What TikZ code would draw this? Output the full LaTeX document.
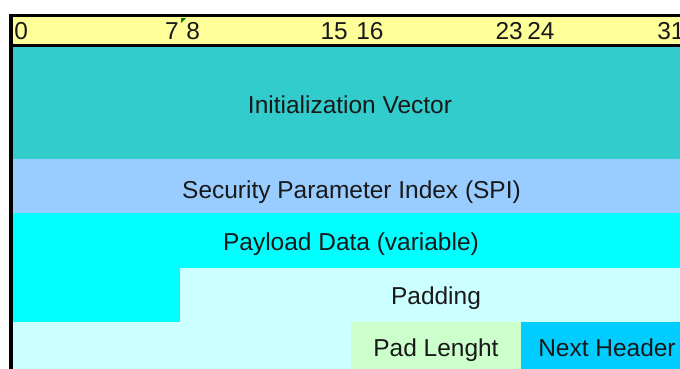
\documentclass[tikz,border=0pt]{standalone}
\usepackage{fontspec}
\setmainfont{Liberation Sans}
\definecolor{rulerfill}{HTML}{FFFF99}
\definecolor{ivfill}{HTML}{33CCCC}
\definecolor{spifill}{HTML}{99CCFF}
\definecolor{payfill}{HTML}{00FFFF}
\definecolor{padfill}{HTML}{CCFFFF}
\definecolor{padlenfill}{HTML}{CCFFCC}
\definecolor{nextfill}{HTML}{00CCFF}
\definecolor{markgreen}{HTML}{008000}
\tikzset{field/.style={inner sep=0pt, anchor=base, text=black!90, font=\fontsize{17.4}{20}\selectfont},
  bitlabel/.style={field, anchor=base west},
  bitlabelr/.style={field, anchor=base east}}

\begin{document}
\begin{tikzpicture}[x=0.025cm, y=-0.025cm]
\useasboundingbox (0,0) rectangle (680,369);
\clip (0,0) rectangle (680,369);
\fill[white] (0,0) rectangle (680,369);

% ruler and fields
\fill[rulerfill] (13,17) rectangle (692,44);
\fill[ivfill] (13,47) rectangle (692,159);
\fill[spifill] (13,159) rectangle (692,213);
\fill[payfill] (13,213) -- (692,213) -- (692,268) -- (180,268) -- (180,322) -- (13,322) -- cycle;
\fill[padfill] (180,268) -- (692,268) -- (692,322) -- (351,322) -- (351,369) -- (13,369) -- (13,322) -- (180,322) -- cycle;
\fill[padlenfill] (351,322) rectangle (521,369);
\fill[nextfill] (521,322) rectangle (692,369);

% frame
\fill[black] (9,14) rectangle (692,17);
\fill[black] (13,44) rectangle (692,47);
\fill[black] (9,14) rectangle (13,369);
\fill[markgreen] (181,18) -- (186,18) -- (181,23) -- cycle;

\node[bitlabel] (b0) at (14,39) {0};
\node[bitlabelr] (b7) at (179,39) {7};
\node[bitlabel] (b8) at (186,39) {8};
\node[bitlabelr] (b15) at (348,39) {15};
\node[bitlabel] (b16) at (356,39) {16};
\node[bitlabelr] (b23) at (523,39) {23};
\node[bitlabel] (b24) at (527,39) {24};
\node[bitlabel] (b31) at (657,39) {31};

\node[field] (iv) at (350,113) {Initialization Vector};
\node[field] (spi) at (351.5,198) {Security Parameter Index (SPI)};
\node[field] (payload) at (351,250) {Payload Data (variable)};
\node[field] (padding) at (436,304) {Padding};
\node[field] (padlen) at (436,356) {Pad Lenght};
\node[field] (nexthdr) at (607,356) {Next Header};
\end{tikzpicture}
\end{document}
